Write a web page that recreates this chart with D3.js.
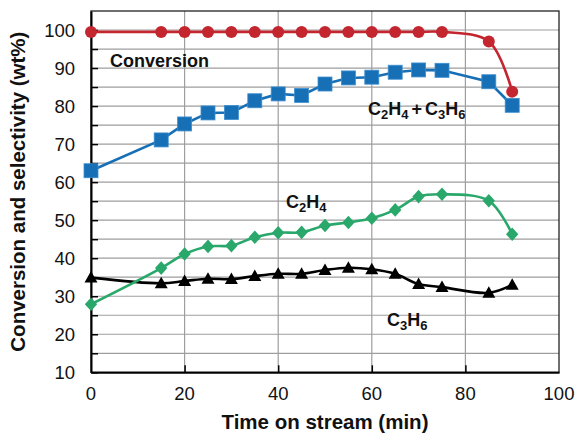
<!DOCTYPE html>
<html><head><meta charset="utf-8">
<script src="https://cdn.jsdelivr.net/npm/d3@7"></script>
<style>body{margin:0;background:#fff}svg{display:block;font-family:"Liberation Sans",Arial,sans-serif}</style>
</head><body>
<svg id="chart" width="578" height="433"></svg>
<script>
const time = [0,15,20,25,30,35,40,45,50,55,60,65,70,75,85,90];
const conversion = [99.5,99.5,99.5,99.5,99.5,99.5,99.5,99.5,99.5,99.5,99.5,99.5,99.5,99.5,97.0,83.8];
const c2h4c3h6 = [63.0,71.1,75.3,78.2,78.3,81.4,83.2,82.8,85.8,87.4,87.6,88.9,89.5,89.4,86.4,80.2];
const c2h4 = [27.9,37.4,41.1,43.1,43.3,45.5,46.7,46.8,48.6,49.4,50.5,52.7,56.2,56.8,55.1,46.3];
const c3h6 = [34.9,33.4,34.0,34.6,34.5,35.3,35.9,35.9,36.9,37.5,37.1,35.9,33.2,32.4,30.9,33.0];
const xTicks = [0,20,40,60,80,100];
const yTicks = [10,20,30,40,50,60,70,80,90,100];
const yGrid = [15,20,25,30,35,40,45,50,55,60,65,70,75,80,85,90,95,100];
const xGrid = [20,40,60,80];

const svg = d3.select("#chart");
const m = {l:91, r:19, t:11, b:60.7};
const W = 578, H = 433;
const x = d3.scaleLinear().domain([0,100]).range([m.l, W-m.r]);
const y = d3.scaleLinear().domain([10,105]).range([H-m.b, m.t]);

// gridlines
const g = svg.append("g");
g.selectAll(".hg").data(yGrid).enter().append("line")
  .attr("x1", x(0)).attr("x2", x(100)).attr("y1", d=>y(d)).attr("y2", d=>y(d))
  .attr("stroke", "#9e9e9e").attr("stroke-width", 1.2);
g.selectAll(".vg").data(xGrid).enter().append("line")
  .attr("y1", y(10)).attr("y2", y(105)).attr("x1", d=>x(d)).attr("x2", d=>x(d))
  .attr("stroke", "#9e9e9e").attr("stroke-width", 1.2);

// frame
svg.append("rect").attr("x", x(0)).attr("y", y(105)).attr("width", x(100)-x(0)).attr("height", y(10)-y(105))
  .attr("fill","none").attr("stroke","#222").attr("stroke-width",1.3);

// axes
const yAxis = d3.axisLeft(y).tickValues(yGrid.concat([10])).tickSizeInner(-7).tickSizeOuter(0).tickFormat("");
const ya = svg.append("g").attr("transform",`translate(${x(0)},0)`).call(yAxis);
ya.select(".domain").attr("stroke","#000").attr("stroke-width",2);
ya.selectAll(".tick line").attr("stroke","#000").attr("stroke-width",1.5);
svg.append("g").selectAll("text").data(yTicks).enter().append("text")
  .attr("x", x(0)-16).attr("y", d=>y(d)).attr("dy","0.36em").attr("text-anchor","end")
  .attr("font-size","18.5px").attr("fill","#111").text(d=>d);

const xAxis = d3.axisBottom(x).tickValues(xGrid).tickSizeInner(-7).tickSizeOuter(0).tickFormat("");
const xa = svg.append("g").attr("transform",`translate(0,${y(10)})`).call(xAxis);
xa.select(".domain").attr("stroke","#000").attr("stroke-width",2);
xa.selectAll(".tick line").attr("stroke","#000").attr("stroke-width",1.5);
svg.append("g").selectAll("text").data(xTicks).enter().append("text")
  .attr("x", d=>x(d)).attr("y", y(10)+21).attr("dy","0.36em").attr("text-anchor","middle")
  .attr("font-size","18.5px").attr("fill","#111").text(d=>d);

// titles
svg.append("text").attr("x", (x(0)+x(100))/2).attr("y", 429).attr("text-anchor","middle")
  .attr("font-size","20.5px").attr("font-weight","bold").attr("fill","#111").text("Time on stream (min)");
svg.append("text").attr("transform",`translate(25,${(y(10)+y(105))/2}) rotate(-90)`).attr("text-anchor","middle")
  .attr("font-size","20.5px").attr("font-weight","bold").attr("fill","#111").text("Conversion and selectivity (wt%)");

// series
function draw(vals, color, curve, marker) {
  const pts = time.map((t,i)=>[t, vals[i]]);
  svg.append("path").datum(pts)
    .attr("d", d3.line().x(d=>x(d[0])).y(d=>y(d[1])).curve(curve))
    .attr("fill","none").attr("stroke", color).attr("stroke-width", 2.6);
  const mg = svg.append("g");
  pts.forEach(p => {
    const cx = x(p[0]), cy = y(p[1]);
    if (marker === "circle") mg.append("circle").attr("cx",cx).attr("cy",cy).attr("r",6).attr("fill",color);
    else if (marker === "square") mg.append("rect").attr("x",cx-7).attr("y",cy-7).attr("width",14).attr("height",14).attr("fill",color).attr("stroke","#3d8fd0").attr("stroke-width",0.8);
    else if (marker === "diamond") mg.append("path").attr("d",`M${cx},${cy-6.8}L${cx+6.2},${cy}L${cx},${cy+6.8}L${cx-6.2},${cy}Z`).attr("fill",color);
    else if (marker === "triangle") mg.append("path").attr("d",`M${cx},${cy-6.5}L${cx+6.5},${cy+5}L${cx-6.5},${cy+5}Z`).attr("fill",color);
  });
}
draw(c3h6, "#000", d3.curveCatmullRom.alpha(0.5), "triangle");
draw(c2h4, "#2aa86b", d3.curveCatmullRom.alpha(0.5), "diamond");
draw(c2h4c3h6, "#176fb6", d3.curveLinear, "square");
draw(conversion, "#c4262f", d3.curveCatmullRom.alpha(0.5), "circle");

// labels
function label(xp, yp, parts) {
  const t = svg.append("text").attr("x", xp).attr("y", yp).attr("font-weight","bold").attr("font-size","18px").attr("fill","#111");
  parts.forEach(p => {
    const s = t.append("tspan").text(p[0]);
    if (p[1] === "sub") s.attr("font-size","13px").attr("dy","4");
    else if (p[1] === "up") s.attr("dy","-4");
    else if (p[1] === "plus") s.attr("dy","-4").attr("dx","3");
    if (p[2]) s.attr("dx", p[2]);
  });
}
label(110, 67, [["Conversion"]]);
label(368, 115, [["C"],["2","sub"],["H","up"],["4","sub"],["+","plus"],["C",null,"3"],["3","sub"],["H","up"],["6","sub"]]);
label(286, 208, [["C"],["2","sub"],["H","up"],["4","sub"]]);
label(387, 326, [["C"],["3","sub"],["H","up"],["6","sub"]]);
</script>
</body></html>
